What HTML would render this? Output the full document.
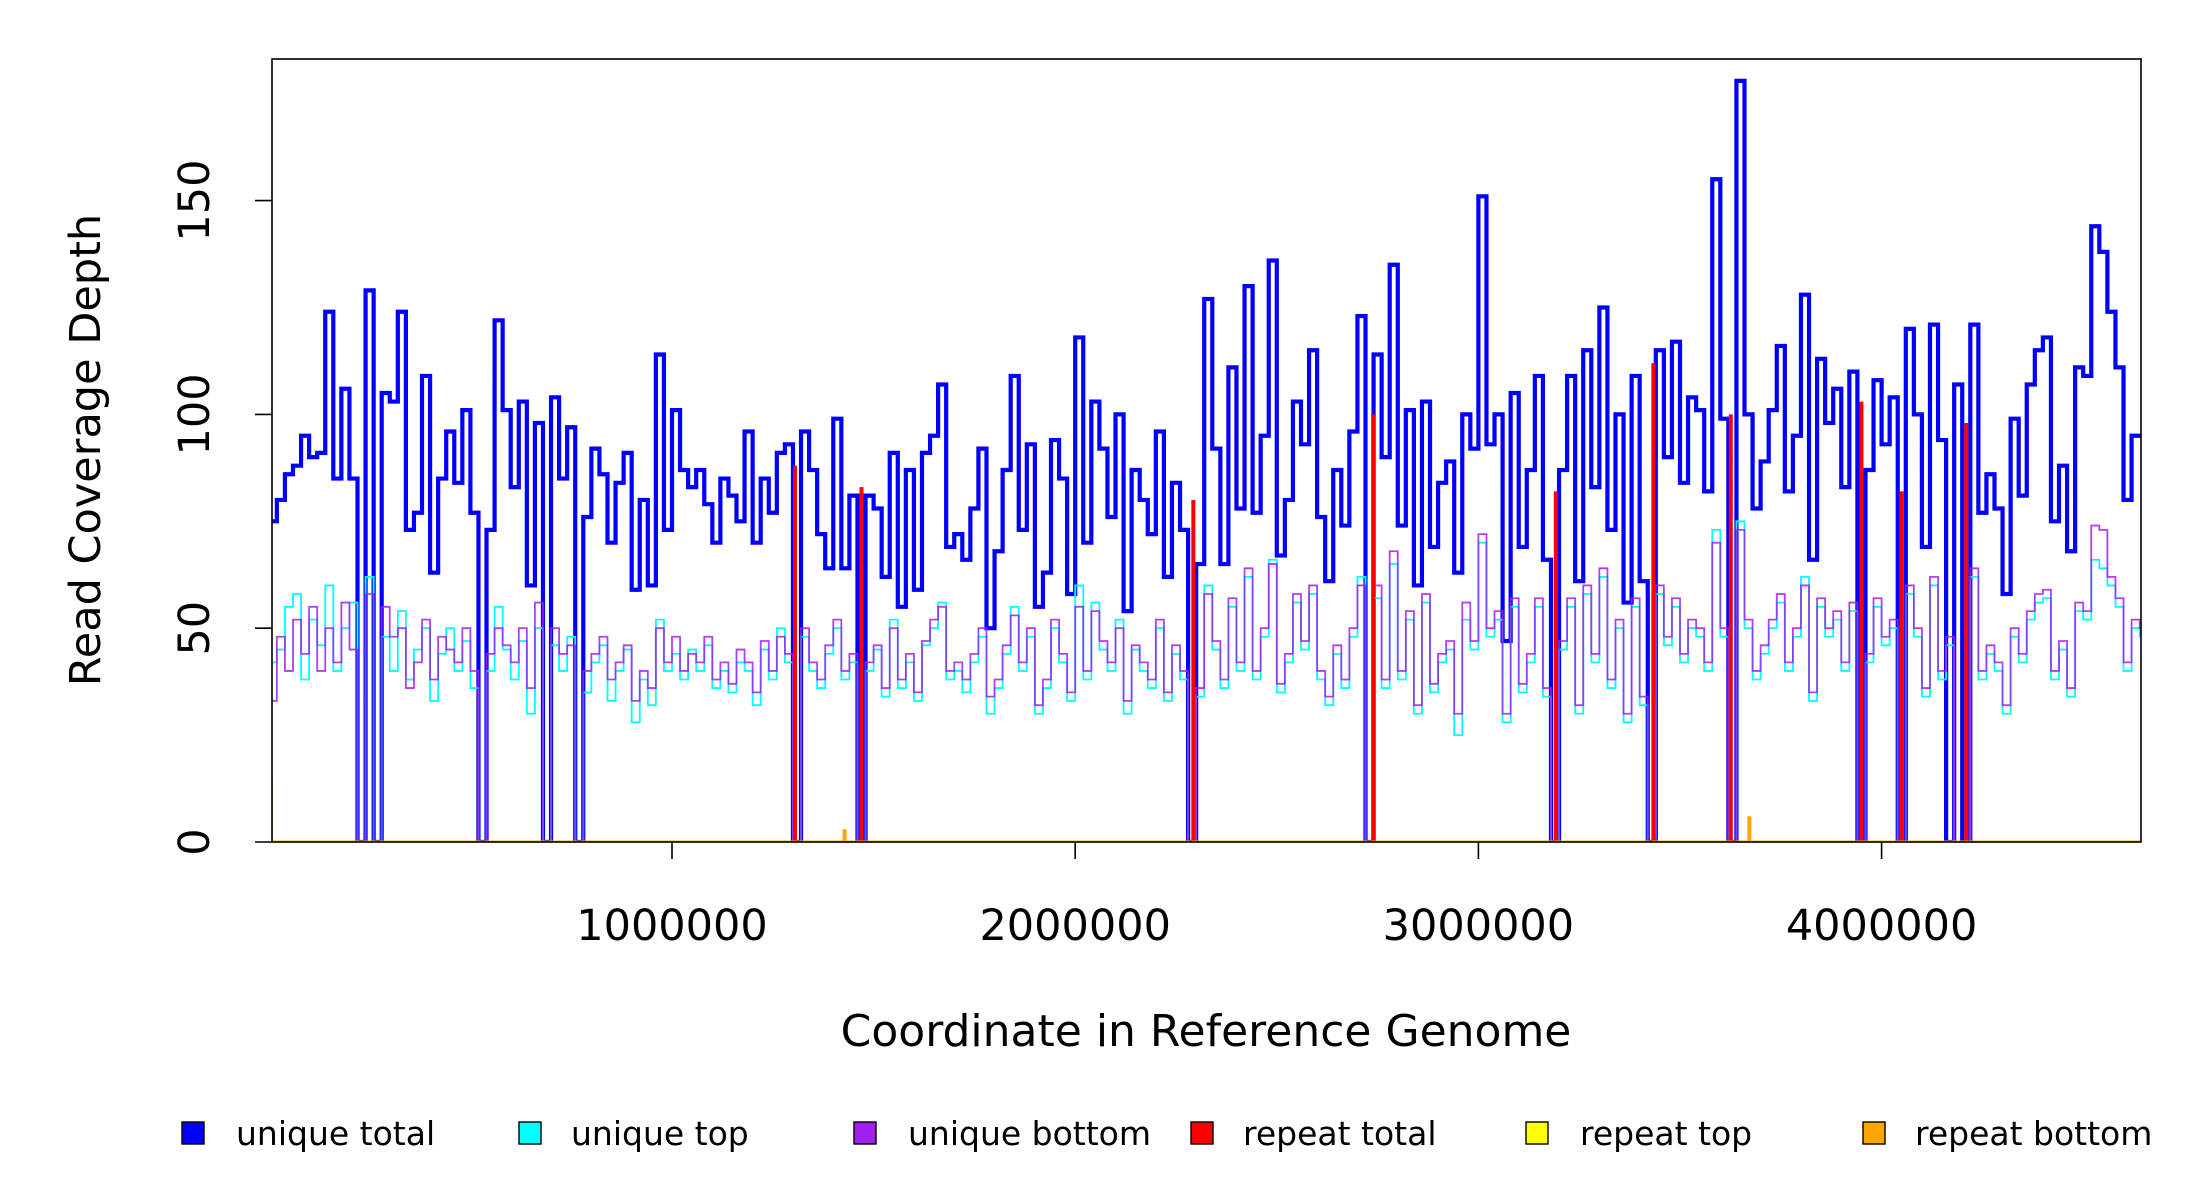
<!DOCTYPE html>
<html><head><meta charset="utf-8"><style>
body{margin:0;background:#fff;}
svg{display:block;font-family:"DejaVu Sans","Liberation Sans",sans-serif;}
</style></head><body>
<svg id="chart" width="2200" height="1200" viewBox="0 0 2200 1200" xmlns="http://www.w3.org/2000/svg">
<defs><clipPath id="clip"><rect x="272" y="59" width="1869" height="783"/></clipPath></defs>
<rect width="2200" height="1200" fill="#fff"/>
<g id="plot" clip-path="url(#clip)"></g>
<rect x="272" y="59" width="1869" height="783" fill="none" stroke="#000" stroke-width="1.6"/>
<g id="axes"></g>
<text x="100" y="450" font-size="43" text-anchor="middle" transform="rotate(-90 100 450)">Read Coverage Depth</text>
<text x="1206" y="1046" font-size="44" text-anchor="middle">Coordinate in Reference Genome</text>
<g font-size="33">
 <g><rect x="182" y="1122" width="22" height="22" fill="#0000ff" stroke="#000" stroke-width="1.4"/><text x="236" y="1145">unique total</text></g>
 <g><rect x="519" y="1122" width="22" height="22" fill="#00ffff" stroke="#000" stroke-width="1.4"/><text x="571" y="1145">unique top</text></g>
 <g><rect x="854" y="1122" width="22" height="22" fill="#a020f0" stroke="#000" stroke-width="1.4"/><text x="908" y="1145">unique bottom</text></g>
 <g><rect x="1191" y="1122" width="22" height="22" fill="#ff0000" stroke="#000" stroke-width="1.4"/><text x="1243" y="1145">repeat total</text></g>
 <g><rect x="1526" y="1122" width="22" height="22" fill="#ffff00" stroke="#000" stroke-width="1.4"/><text x="1580" y="1145">repeat top</text></g>
 <g><rect x="1863" y="1122" width="22" height="22" fill="#ffa500" stroke="#000" stroke-width="1.4"/><text x="1915" y="1145">repeat bottom</text></g>
</g>
</svg>
<script>
const binSize = 20000;
const uniqueTotal = [75,80,86,88,95,90,91,124,85,106,85,0,129,0,105,103,124,73,77,109,63,85,96,84,101,77,0,73,122,101,83,103,60,98,0,104,85,97,0,76,92,86,70,84,91,59,80,60,114,73,101,87,83,87,79,70,85,81,
75,96,70,85,77,91,93,0,96,87,72,64,99,64,81,0,81,78,62,91,55,87,59,91,95,107,69,72,66,78,92,50,68,87,109,73,93,55,63,94,85,58,118,70,103,92,76,100,54,87,80,72,96,62,84,73,0,65,
127,92,65,111,78,130,77,95,136,67,80,103,93,115,76,61,87,74,96,123,0,114,90,135,74,101,60,103,69,84,89,63,100,92,151,93,100,47,105,69,87,109,66,0,87,109,61,115,83,125,73,100,56,109,61,0,115,90,
117,84,104,101,82,155,99,0,178,100,78,89,101,116,82,95,128,66,113,98,106,83,110,0,87,108,93,104,0,120,100,69,121,94,0,107,0,121,77,86,78,58,99,81,107,115,118,75,88,68,111,109,144,138,124,111,80,95,95];
const uniqueTop = [42,45,55,58,38,52,46,60,40,50,56,0,62,0,48,40,54,38,45,50,33,44,50,40,47,36,0,40,55,45,38,47,30,50,0,46,40,48,0,35,42,46,33,40,45,28,38,32,52,40,44,38,45,40,46,36,40,35,42,40,32,45,38,50,42,0,48,40,36,44,50,38,42,0,40,45,34,52,36,42,33,46,50,56,38,40,35,42,48,30,36,44,55,40,48,30,36,50,42,33,60,38,56,45,40,52,30,45,40,36,50,33,44,38,0,34,60,45,36,55,40,62,38,48,66,35,42,56,45,58,38,32,44,36,48,62,0,57,36,65,38,52,30,56,35,42,45,25,52,45,70,48,52,28,55,35,42,55,34,0,45,55,30,58,42,62,36,50,28,55,32,0,58,46,55,42,50,48,40,73,48,0,75,50,38,44,50,56,40,48,62,33,55,48,52,40,54,0,42,55,46,50,0,58,48,34,60,38,46,0,0,62,38,44,40,30,48,42,52,56,57,38,45,34,54,52,66,64,60,55,40,50,48];
const uniqueBottom = [33,48,40,52,44,55,40,50,42,56,45,0,58,0,55,48,50,36,42,52,38,48,45,42,50,40,0,44,50,46,42,50,36,56,0,50,44,46,0,40,44,48,38,42,46,33,40,36,50,42,48,40,44,42,48,38,42,37,45,42,35,47,40,48,44,0,50,42,38,46,52,40,44,0,42,46,36,50,38,44,35,47,52,55,40,42,38,44,50,34,38,46,53,42,50,32,38,52,44,35,55,40,54,47,42,50,33,46,42,38,52,35,46,40,0,36,58,47,38,57,42,64,40,50,65,37,44,58,47,60,40,34,46,38,50,60,0,60,38,68,40,54,32,58,37,44,47,30,56,47,72,50,54,30,57,37,44,57,36,0,47,57,32,60,44,64,38,52,30,57,34,0,60,48,57,44,52,50,42,70,50,0,73,52,40,46,52,58,42,50,60,35,57,50,54,42,56,0,44,57,48,52,0,60,50,36,62,40,48,0,0,64,40,46,42,32,50,44,54,58,59,40,47,36,56,54,74,73,62,57,42,52,50];
const repeatTotalPos = [1305000,1470000,2293000,2739000,3192000,3434000,3626000,3950000,4050000,4210000];
const repeatTotalVal = [88,83,80,100,82,112,100,103,82,98];
const repeatBottomPos = [5000,1428000,3672000];
const repeatBottomVal = [15,3,6];
const xTicks = [1000000,2000000,3000000,4000000];
const yTicks = [0,50,100,150];

const NS="http://www.w3.org/2000/svg";
const X0=272,X1=2141,Y0=842;
const xMax=4643000;
function xs(v){return 268.8+v*403.2e-6;}
function ys(v){return Y0-v*4.276;}
const plot=document.getElementById('plot');
const axes=document.getElementById('axes');
function mk(tag,attrs,parent){const e=document.createElementNS(NS,tag);for(const k in attrs)e.setAttribute(k,attrs[k]);parent.appendChild(e);return e;}
function stepPath(arr){
  let d='M'+xs(0)+' '+ys(arr[0]);
  for(let i=0;i<arr.length;i++){
    const xe=Math.min(xMax,(i+1)*binSize);
    d+=' H'+xs(xe);
    if(i+1<arr.length)d+=' V'+ys(arr[i+1]);
  }
  return d;
}
let p=mk('path',{d:stepPath(uniqueTotal),fill:'none',stroke:'#0000ff','stroke-width':4.2},plot);


p=mk('path',{d:stepPath(uniqueTop),fill:'none',stroke:'#00ffff','stroke-width':1.8},plot);


p=mk('path',{d:stepPath(uniqueBottom),fill:'none',stroke:'#a020f0','stroke-width':1.8,'stroke-opacity':0.85},plot);


repeatTotalPos.forEach((pos,i)=>{
  const l=mk('line',{x1:xs(pos),x2:xs(pos),y1:ys(0),y2:ys(repeatTotalVal[i]),stroke:'#ff0000','stroke-width':4},plot);
  
  
});
let bl=mk('line',{x1:X0,x2:X1,y1:ys(0),y2:ys(0),stroke:'#ffa500','stroke-width':3},plot);


repeatBottomPos.forEach((pos,i)=>{
  const l=mk('line',{x1:xs(pos),x2:xs(pos),y1:ys(0),y2:ys(repeatBottomVal[i]),stroke:'#ffa500','stroke-width':4},plot);
  
  
});
yTicks.forEach(v=>{
  const t=mk('line',{x1:X0-17,x2:X0,y1:ys(v),y2:ys(v),stroke:'#000','stroke-width':1.6},axes);
  
  
  const tx=mk('text',{x:209,y:ys(v),'font-size':43,'text-anchor':'middle',transform:'rotate(-90 209 '+ys(v)+')'},axes);
  tx.textContent=v;
  
  
});
xTicks.forEach(v=>{
  const t=mk('line',{x1:xs(v),x2:xs(v),y1:Y0,y2:Y0+17,stroke:'#000','stroke-width':1.6},axes);
  
  
  const tx=mk('text',{x:xs(v),y:940,'font-size':43,'text-anchor':'middle'},axes);
  tx.textContent=v;
  
  
});
</script>
</body></html>
